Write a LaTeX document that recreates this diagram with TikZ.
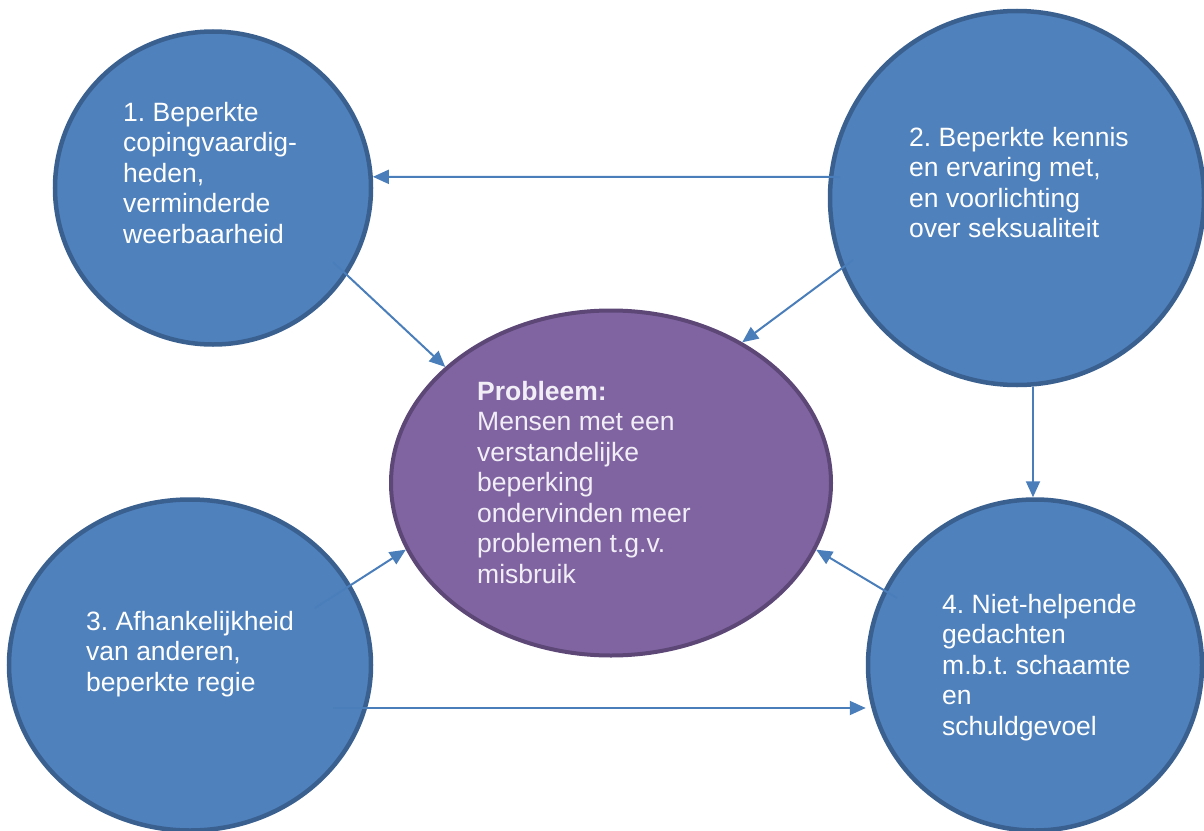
\documentclass[tikz,border=0pt]{standalone}
\usepackage{fontspec}
\setmainfont{Liberation Sans}
\usetikzlibrary{shapes.geometric,arrows.meta}
\definecolor{bubblefill}{HTML}{4F81BD}
\definecolor{bubbleedge}{HTML}{3A6090}
\definecolor{corefill}{HTML}{8064A2}
\definecolor{coreedge}{HTML}{5C4776}
\definecolor{linkcol}{HTML}{4A7EBB}
\definecolor{coretext}{HTML}{F2EEF6}
\frenchspacing

\begin{document}
\begin{tikzpicture}[x=1bp,y=-1bp,
  bubble/.style={ellipse, fill=bubblefill, draw=bubbleedge, line width=4.5bp, inner sep=0pt},
  coreshape/.style={ellipse, fill=corefill, draw=coreedge, line width=4bp, inner sep=0pt},
  txt/.style={anchor=base west, inner sep=0pt, text=white,
    font=\fontsize{26.5bp}{30.5bp}\selectfont},
  link/.style={draw=linkcol, line width=2bp, -{Triangle[length=16bp,width=14bp]}}]

\useasboundingbox (0,0) rectangle (1204,831);
\clip (0,0) rectangle (1204,831);

% the four cause bubbles and the central problem
\node[bubble, minimum width=316bp, minimum height=313bp] (c1) at (213,188) {};
\node[bubble, minimum width=374bp, minimum height=374bp] (c2) at (1017,198) {};
\node[bubble, minimum width=362bp, minimum height=331bp] (c3) at (190,665) {};
\node[bubble, minimum width=334bp, minimum height=331bp] (c4) at (1035,665) {};
\node[coreshape, minimum width=440bp, minimum height=345bp] (e) at (611,483) {};

% texts
\node[txt] (t1) at (123,121) {\parbox[t]{300bp}{\raggedright 1. Beperkte\\copingvaardig-\\heden,\\verminderde\\weerbaarheid}};
\node[txt] (t2) at (909,146) {\parbox[t]{300bp}{\raggedright 2. Beperkte kennis\\en ervaring met,\\en voorlichting\\over seksualiteit}};
\node[txt] (t3) at (86,630) {\parbox[t]{300bp}{\raggedright 3. Afhankelijkheid\\van anderen,\\beperkte regie}};
\node[txt] (t4) at (942,613) {\parbox[t]{300bp}{\raggedright 4. Niet-helpende\\gedachten\\m.b.t. schaamte\\en\\schuldgevoel}};
\node[txt, text=coretext] (te) at (477,400) {\parbox[t]{320bp}{\raggedright \textbf{Probleem:}\\Mensen met een\\verstandelijke\\beperking\\ondervinden meer\\problemen t.g.v.\\misbruik}};

% connectors (they start a little inside their source bubble)
\coordinate (s1) at (840,177);
\coordinate (s2) at (333,262);
\coordinate (s3) at (853,260);
\coordinate (s4) at (1033,387);
\coordinate (s5) at (315,608);
\coordinate (s6) at (333,708);
\coordinate (s7) at (897,598);

\draw[link] (s1) -- (c1.4);
\draw[link] (s2) -- (e.145);
\draw[link] (s3) -- (e.47);
\draw[link] (s4) -- (s4 |- c4.north);
\draw[link] (s5) -- (e.198);
\draw[link] (s6) -- (s6 -| c4.west);
\draw[link] (s7) -- (e.-18);
\end{tikzpicture}
\end{document}
